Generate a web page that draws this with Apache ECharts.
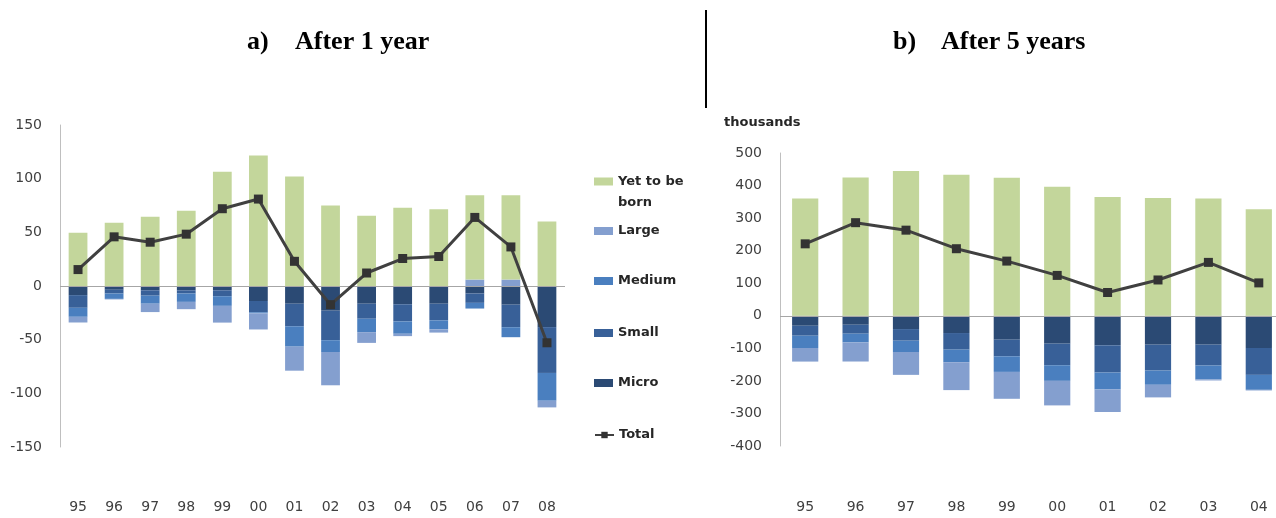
<!DOCTYPE html>
<html>
<head>
<meta charset="utf-8">
<script src="https://cdn.jsdelivr.net/npm/echarts@6/dist/echarts.min.js"></script>
<style>
html,body{margin:0;padding:0;background:#fff;overflow:hidden;}
#chart{width:1300px;height:518px;}
</style>
</head>
<body>
<div id="chart"></div>
<script>
// ---- Data: panel a) After 1 year ----
const cats1 = ['95','96','97','98','99','00','01','02','03','04','05','06','07','08'];
const yet1 = [49.5, 59, 64.5, 70, 106.5, 121.5, 102, 75, 65.5, 73, 71.5, 78.5, 78.5, 60];
const large1 = [-5.3, -0.5, -7.8, -6.8, -15.6, -15, -22.4, -31, -10, -2.2, -3, 6, 6, -6.2];
const medium1 = [-8.4, -5, -7.5, -7.8, -9, -1, -19, -11, -12.5, -11.5, -8.4, -5.3, -9.3, -25.9];
const small1 = [-11.8, -3.5, -5, -3, -5.5, -10.5, -21, -27.5, -14, -16, -15.5, -8.7, -21, -42.7];
const micro1 = [-8.5, -3.5, -4, -4, -4, -14, -16.5, -23, -16.5, -17, -16.5, -7, -17.4, -38.3];
const total1 = [15.3, 45.8, 40.8, 48.3, 72, 81, 23, -17.4, 12.1, 25.6, 27.5, 63.9, 36.4, -52.9];

// ---- Data: panel b) After 5 years (thousands) ----
const cats2 = ['95','96','97','98','99','00','01','02','03','04'];
const yet2 = [360, 425, 445, 433, 424, 396, 365, 362, 360, 327];
const large2 = [-41.8, -59, -70.3, -85.6, -82.6, -75.4, -69.3, -38.7, -3, -2];
const medium2 = [-37.7, -26.5, -34.7, -38.7, -48, -48, -52, -43.8, -42.8, -45.9];
const small2 = [-30.6, -27.5, -35.7, -51, -51, -66.3, -83.6, -79.5, -64.2, -82.6];
const micro2 = [-30.6, -27.5, -40.8, -53, -73.4, -85.6, -90.7, -88.7, -88.7, -98.9];
const total2 = [221, 286, 263, 206, 168, 124, 71.5, 110, 164, 101];

const C = {
  yet: '#c3d69b', large: '#849fcf', medium: '#4a7fbf', small: '#386098', micro: '#2b4a74', total: '#404040'
};
const FONT = 'DejaVu Sans';

function yAxisCfg(gi, min, max, interval) {
  return {
    type: 'value', gridIndex: gi, min: min, max: max, interval: interval,
    axisLine: {show: true, lineStyle: {color: '#bfbfbf', width: 1}},
    axisTick: {show: false}, splitLine: {show: false},
    axisLabel: {color: '#404040', fontSize: 14, fontFamily: FONT, margin: 18}
  };
}
function xAxisCfg(gi, data, margin) {
  return {
    type: 'category', gridIndex: gi, data: data,
    axisLine: {show: false, onZero: false}, axisTick: {show: false},
    axisLabel: {color: '#404040', fontSize: 14, fontFamily: FONT, margin: margin}
  };
}
function barSeries(name, data, color, gi, stack, extra) {
  return Object.assign({
    name: name, type: 'bar', xAxisIndex: gi, yAxisIndex: gi, stack: stack,
    data: data, barWidth: '52%', itemStyle: {color: color}, emphasis: {disabled: true}
  }, extra || {});
}
function zeroLine() {
  return {
    silent: true, symbol: 'none', label: {show: false},
    lineStyle: {color: '#a6a6a6', width: 1, type: 'solid'},
    data: [{yAxis: 0}]
  };
}
function lineSeries(data, gi) {
  return {
    name: 'Total', type: 'line', xAxisIndex: gi, yAxisIndex: gi, data: data,
    symbol: 'rect', symbolSize: 9, z: 5,
    lineStyle: {color: C.total, width: 3}, itemStyle: {color: '#333333'},
    emphasis: {disabled: true}
  };
}
const legTxt = {fontFamily: FONT, fontWeight: 'bold', fontSize: 13, color: '#262626', lineHeight: 16};
function legendCfg(name, top, extraText, icon) {
  return {
    data: [icon ? {name: name, icon: icon} : name], left: 594, top: top, padding: 0,
    itemWidth: 19, itemHeight: 8, selectedMode: false,
    textStyle: Object.assign({}, legTxt, extraText || {})
  };
}

const legends = [
  legendCfg('Yet to be born', 150, {lineHeight: 21}, 'rect'),
  legendCfg('Large', 223, null, 'rect'),
  legendCfg('Medium', 273, null, 'rect'),
  legendCfg('Small', 325, null, 'rect'),
  legendCfg('Micro', 375, null, 'rect'),
  legendCfg('Total', 427, null, null)
];
legends[0].formatter = function () { return '\u00a0\nYet to be\nborn'; };

const chart = echarts.init(document.getElementById('chart'), null, {renderer: 'canvas'});
chart.setOption({
  animation: false,
  backgroundColor: '#ffffff',
  grid: [
    {left: 60, top: 125, width: 505, height: 322, containLabel: false},
    {left: 780, top: 153, width: 504, height: 293, containLabel: false}
  ],
  xAxis: [xAxisCfg(0, cats1, 53), xAxisCfg(1, cats2, 54)],
  yAxis: [yAxisCfg(0, -150, 150, 50), yAxisCfg(1, -400, 500, 100)],
  legend: legends,
  graphic: [
    {type: 'text', left: 247, top: 29, style: {text: 'a)', font: 'bold 26px "Liberation Serif"', fill: '#000'}},
    {type: 'text', left: 295, top: 29, style: {text: 'After 1 year', font: 'bold 26px "Liberation Serif"', fill: '#000'}},
    {type: 'text', left: 893, top: 29, style: {text: 'b)', font: 'bold 26px "Liberation Serif"', fill: '#000'}},
    {type: 'text', left: 941, top: 29, style: {text: 'After 5 years', font: 'bold 26px "Liberation Serif"', fill: '#000'}},
    {type: 'line', shape: {x1: 706, y1: 10, x2: 706, y2: 108}, style: {stroke: '#000', lineWidth: 2}},
    {type: 'text', left: 724, top: 116, style: {text: 'thousands', font: 'bold 13px "DejaVu Sans"', fill: '#262626'}}
  ],
  series: [
    barSeries('Micro', micro1, C.micro, 0, 'a', {markLine: zeroLine()}),
    barSeries('Small', small1, C.small, 0, 'a'),
    barSeries('Medium', medium1, C.medium, 0, 'a'),
    barSeries('Large', large1, C.large, 0, 'a'),
    barSeries('Yet to be born', yet1, C.yet, 0, 'a'),
    lineSeries(total1, 0),
    barSeries('Micro', micro2, C.micro, 1, 'b', {markLine: zeroLine()}),
    barSeries('Small', small2, C.small, 1, 'b'),
    barSeries('Medium', medium2, C.medium, 1, 'b'),
    barSeries('Large', large2, C.large, 1, 'b'),
    barSeries('Yet to be born', yet2, C.yet, 1, 'b'),
    lineSeries(total2, 1)
  ]
});
</script>
</body>
</html>
